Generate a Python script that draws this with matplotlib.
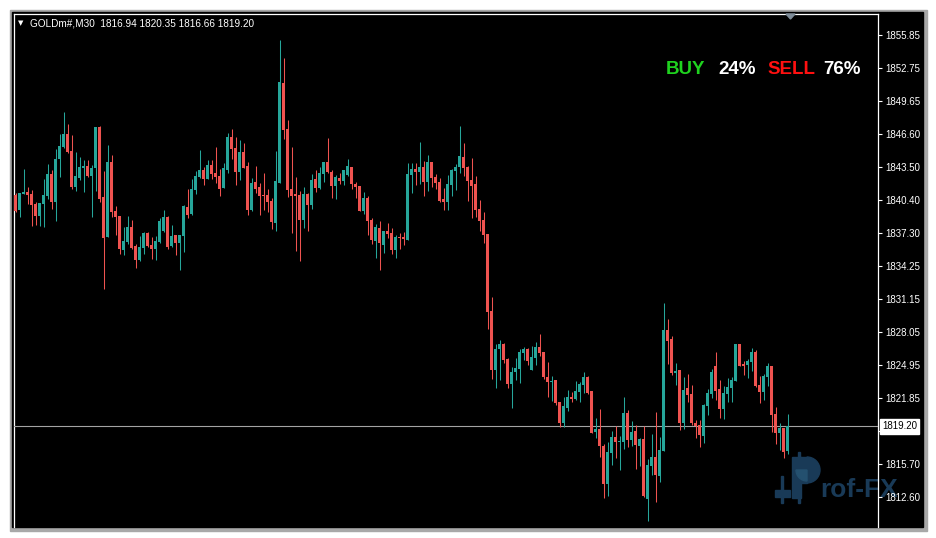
import numpy as np
import matplotlib
matplotlib.use("Agg")
from matplotlib import pyplot as plt
from matplotlib.patches import Rectangle, Polygon, Wedge
from matplotlib.transforms import Affine2D, blended_transform_factory

# ---- data (GOLDm#, M30 candles) ----
symbol = "GOLDm#"
timeframe = "M30"

opens = [
    1840.86, 1839.46, 1840.96, 1841.15, 1840.96, 1840.02, 1838.90, 1840.02, 1840.77, 1842.83,
    1840.24, 1844.24, 1845.36, 1846.58, 1844.98, 1841.61, 1842.46, 1843.39, 1843.58, 1842.64,
    1843.39, 1847.23, 1840.68, 1836.93, 1843.95, 1839.37, 1838.90, 1835.72, 1836.46, 1837.87,
    1836.09, 1834.78, 1835.90, 1837.31, 1836.18, 1835.81, 1836.46, 1837.49, 1838.80, 1836.09,
    1837.12, 1836.37, 1837.03, 1839.74, 1839.09, 1841.33, 1842.55, 1843.21, 1842.37, 1843.68,
    1842.93, 1842.65, 1841.53, 1843.21, 1846.30, 1845.27, 1843.02, 1844.90, 1843.59, 1839.47,
    1842.09, 1841.62, 1840.90, 1840.87, 1840.31, 1838.25, 1842.00, 1851.36, 1847.05, 1841.43,
    1840.96, 1840.87, 1838.53, 1840.96, 1839.93, 1842.37, 1841.53, 1842.84, 1843.96, 1843.02,
    1841.71, 1842.46, 1842.18, 1842.74, 1843.49, 1841.90, 1841.71, 1839.37, 1840.59, 1838.53,
    1836.56, 1837.78, 1836.19, 1837.50, 1837.31, 1835.72, 1836.94, 1836.94, 1836.66, 1842.74,
    1843.30, 1843.02, 1843.49, 1842.09, 1843.96, 1842.56, 1842.09, 1840.50, 1840.22, 1841.81,
    1843.12, 1843.49, 1844.43, 1843.49, 1842.28, 1841.90, 1839.56, 1838.53, 1837.22, 1830.01,
    1824.49, 1826.45, 1826.92, 1825.52, 1823.17, 1824.30, 1824.58, 1826.08, 1826.45, 1824.49,
    1825.61, 1826.64, 1826.17, 1823.83, 1823.36, 1823.55, 1821.49, 1819.52, 1820.92, 1821.95,
    1821.77, 1822.43, 1823.08, 1823.82, 1822.51, 1818.67, 1818.96, 1817.40, 1813.81, 1816.71,
    1818.21, 1817.74, 1817.74, 1820.46, 1817.93, 1818.77, 1817.36, 1818.02, 1812.40, 1815.49,
    1816.33, 1814.55, 1816.90, 1828.23, 1827.38, 1824.20, 1824.48, 1819.52, 1822.79, 1822.23,
    1819.52, 1819.33, 1818.30, 1821.11, 1822.23, 1824.85, 1822.70, 1820.83, 1822.23, 1822.79,
    1823.45, 1826.91, 1825.04, 1824.95, 1825.23, 1826.16, 1823.07, 1822.42, 1823.82, 1824.85,
    1820.36, 1818.58, 1819.05, 1816.94]

highs = [
    1841.02, 1841.08, 1843.30, 1841.65, 1841.33, 1840.24, 1840.08, 1842.36, 1843.77, 1843.21,
    1845.17, 1846.58, 1848.64, 1847.51, 1846.48, 1844.89, 1844.42, 1844.14, 1844.14, 1843.67,
    1847.23, 1847.33, 1843.11, 1845.55, 1844.61, 1839.83, 1838.90, 1837.87, 1838.90, 1838.52,
    1836.28, 1837.03, 1837.40, 1837.40, 1836.93, 1837.03, 1838.71, 1839.46, 1838.90, 1838.06,
    1837.12, 1837.12, 1839.93, 1841.43, 1842.36, 1843.11, 1845.08, 1843.52, 1844.15, 1844.15,
    1845.37, 1843.30, 1843.87, 1846.68, 1847.05, 1846.30, 1846.02, 1845.74, 1843.96, 1842.46,
    1843.59, 1841.99, 1842.93, 1841.43, 1840.59, 1844.99, 1855.38, 1853.70, 1847.89, 1845.37,
    1842.56, 1841.25, 1841.62, 1841.06, 1842.84, 1843.21, 1843.49, 1843.96, 1846.21, 1843.21,
    1842.74, 1842.93, 1843.21, 1844.24, 1843.49, 1842.09, 1841.71, 1841.15, 1840.78, 1838.72,
    1838.16, 1838.44, 1837.50, 1838.25, 1837.78, 1837.13, 1837.31, 1837.41, 1843.87, 1843.87,
    1843.87, 1845.83, 1844.05, 1844.62, 1843.96, 1842.84, 1842.46, 1841.53, 1842.74, 1843.30,
    1843.77, 1847.33, 1845.74, 1843.59, 1844.34, 1842.65, 1840.40, 1839.28, 1837.22, 1831.32,
    1826.92, 1827.29, 1827.01, 1825.61, 1824.77, 1825.61, 1826.45, 1826.64, 1826.55, 1826.73,
    1827.11, 1827.86, 1826.17, 1825.24, 1823.92, 1823.55, 1821.49, 1821.95, 1822.61, 1822.42,
    1823.45, 1823.36, 1824.30, 1823.92, 1822.51, 1819.99, 1820.83, 1817.55, 1817.74, 1818.77,
    1819.24, 1818.30, 1821.95, 1820.74, 1819.70, 1819.33, 1818.11, 1819.24, 1816.15, 1818.49,
    1820.55, 1818.21, 1830.75, 1829.26, 1827.67, 1825.13, 1824.48, 1823.82, 1824.11, 1823.07,
    1819.80, 1819.80, 1821.30, 1822.70, 1824.57, 1826.16, 1823.54, 1822.98, 1823.73, 1823.82,
    1826.91, 1826.91, 1825.32, 1825.51, 1826.54, 1826.35, 1823.92, 1824.11, 1825.13, 1824.85,
    1821.01, 1819.52, 1819.05, 1820.35]

lows = [
    1839.30, 1838.84, 1840.96, 1839.99, 1837.96, 1838.06, 1837.96, 1837.87, 1840.49, 1839.55,
    1838.43, 1842.55, 1845.27, 1844.80, 1841.43, 1841.24, 1842.27, 1841.15, 1842.55, 1838.80,
    1841.24, 1840.21, 1832.06, 1836.93, 1838.80, 1837.12, 1835.34, 1835.25, 1836.28, 1835.81,
    1834.03, 1834.69, 1835.34, 1836.00, 1834.87, 1834.78, 1836.37, 1837.40, 1835.81, 1836.00,
    1835.25, 1833.84, 1835.53, 1838.71, 1838.99, 1840.96, 1842.46, 1841.81, 1842.37, 1842.37,
    1841.99, 1840.78, 1841.53, 1842.93, 1844.24, 1841.81, 1842.28, 1843.40, 1839.00, 1839.37,
    1841.06, 1839.00, 1839.47, 1839.28, 1837.69, 1837.50, 1842.00, 1846.11, 1840.68, 1837.31,
    1835.63, 1834.69, 1837.78, 1837.50, 1839.56, 1841.15, 1841.43, 1842.09, 1842.93, 1840.59,
    1840.50, 1841.90, 1841.81, 1842.65, 1841.43, 1840.59, 1839.37, 1839.09, 1837.13, 1836.28,
    1834.97, 1833.85, 1835.44, 1836.84, 1835.35, 1834.97, 1835.81, 1836.19, 1836.66, 1841.06,
    1841.81, 1841.90, 1840.78, 1841.24, 1841.62, 1841.43, 1840.22, 1839.47, 1839.47, 1840.78,
    1841.34, 1842.93, 1842.65, 1840.31, 1838.72, 1838.81, 1837.50, 1836.38, 1828.32, 1823.64,
    1822.80, 1823.55, 1825.14, 1822.80, 1820.93, 1823.55, 1823.27, 1825.42, 1824.95, 1824.49,
    1824.95, 1825.80, 1823.64, 1821.96, 1821.58, 1821.21, 1819.15, 1819.15, 1820.64, 1821.49,
    1821.67, 1821.49, 1822.33, 1822.23, 1818.58, 1818.11, 1816.33, 1812.50, 1812.68, 1815.58,
    1816.24, 1815.12, 1817.08, 1817.27, 1817.36, 1815.21, 1815.49, 1812.59, 1810.34, 1814.65,
    1812.12, 1813.99, 1816.90, 1825.04, 1824.01, 1823.07, 1818.86, 1818.96, 1821.48, 1819.33,
    1818.11, 1817.27, 1817.64, 1820.27, 1821.86, 1821.67, 1819.99, 1819.89, 1821.48, 1821.48,
    1823.45, 1824.85, 1824.01, 1823.73, 1824.39, 1822.89, 1821.39, 1821.67, 1822.98, 1818.67,
    1817.55, 1816.99, 1816.24, 1816.66]

closes = [
    1839.37, 1841.02, 1841.15, 1840.86, 1839.93, 1838.90, 1840.08, 1840.86, 1842.83, 1840.24,
    1844.24, 1845.45, 1846.58, 1844.89, 1841.61, 1842.64, 1843.49, 1843.58, 1842.64, 1843.39,
    1847.23, 1840.49, 1836.84, 1843.95, 1839.27, 1838.80, 1835.81, 1836.56, 1837.87, 1835.90,
    1834.78, 1836.00, 1837.31, 1836.09, 1835.81, 1836.56, 1838.43, 1838.80, 1836.00, 1837.03,
    1836.37, 1837.12, 1839.83, 1838.99, 1841.43, 1842.64, 1843.21, 1842.37, 1843.68, 1842.84,
    1842.56, 1841.43, 1843.40, 1846.30, 1845.18, 1843.02, 1844.90, 1843.40, 1839.47, 1841.99,
    1841.43, 1840.78, 1840.78, 1840.21, 1838.34, 1842.18, 1851.45, 1846.96, 1841.34, 1840.78,
    1840.78, 1838.53, 1840.96, 1839.93, 1842.28, 1841.53, 1842.93, 1843.96, 1843.02, 1841.71,
    1842.56, 1842.18, 1843.21, 1843.59, 1841.90, 1841.62, 1839.37, 1840.59, 1838.44, 1836.66,
    1837.87, 1836.38, 1837.50, 1837.22, 1835.72, 1836.94, 1836.84, 1836.75, 1842.84, 1843.30,
    1843.02, 1843.49, 1842.09, 1843.96, 1842.46, 1841.99, 1840.31, 1840.22, 1841.90, 1843.21,
    1843.49, 1844.52, 1843.40, 1842.18, 1841.71, 1839.47, 1838.44, 1837.13, 1829.92, 1824.49,
    1826.45, 1826.92, 1825.42, 1823.17, 1824.30, 1824.67, 1826.17, 1826.45, 1825.33, 1825.70,
    1826.64, 1826.08, 1823.83, 1823.36, 1823.46, 1821.39, 1819.52, 1821.11, 1821.95, 1821.77,
    1822.52, 1823.17, 1823.83, 1822.33, 1818.58, 1818.96, 1817.37, 1813.81, 1816.80, 1818.21,
    1817.74, 1817.83, 1820.46, 1817.93, 1818.67, 1817.46, 1818.02, 1812.68, 1815.58, 1816.33,
    1814.65, 1816.99, 1828.23, 1827.20, 1824.20, 1824.39, 1819.52, 1822.61, 1822.14, 1819.52,
    1819.24, 1818.39, 1821.20, 1822.33, 1824.29, 1822.51, 1820.83, 1822.33, 1822.89, 1823.54,
    1826.91, 1824.85, 1824.85, 1825.32, 1826.16, 1822.98, 1822.42, 1823.92, 1824.85, 1820.27,
    1818.58, 1819.05, 1816.80, 1819.20]

price_ticks = [1855.85, 1852.75, 1849.65, 1846.60, 1843.50, 1840.40, 1837.30, 1834.25,
               1831.15, 1828.05, 1824.95, 1821.85, 1818.80, 1815.70, 1812.60]

buy_pct = 24
sell_pct = 76

# ---- figure ----
W, H = 937, 538
fig = plt.figure(figsize=(W / 100, H / 100), dpi=100, facecolor="white")
# pixel coordinates, origin at top-left of the image
px = Affine2D().scale(1 / W, -1 / H).translate(0, 1) + fig.transFigure

# terminal window frame
fig.add_artist(Rectangle((10, 10), 917, 521, transform=px, color="#a8a8a8", zorder=0))
fig.add_artist(Rectangle((12, 12), 911, 515, transform=px, color="black", zorder=0))

ax = fig.add_axes([14 / W, 1 - 527 / H, 864 / W, 513 / H])
ax.set_facecolor("black")
axpx = Affine2D().scale(1 / 864, -1 / 513).translate(-14 / 864, 1 + 14 / 513) + ax.transAxes

up_col = "#26a69a"
dn_col = "#ef5350"
o = np.array(opens)
h = np.array(highs)
l = np.array(lows)
c = np.array(closes)
idx = np.arange(len(o))
cols = np.where(c >= o, up_col, dn_col)

ax.vlines(idx, l, h, colors=cols, linewidth=0.75, zorder=3)
body = np.maximum(np.abs(c - o), 0.09)
ax.bar(idx, body, bottom=np.minimum(o, c), width=0.75, color=cols, linewidth=0, zorder=4)

ax.set_xlim(-0.5, 215.5)
ax.set_ylim(1809.78, 1857.82)
ax.set_xticks([])
ax.yaxis.tick_right()
ax.set_yticks(price_ticks)
# the 1818.80 label sits under the last-price box, as on the terminal
ax.set_yticklabels(["" if abs(t - closes[-1]) < 1 else f"{t:.2f}" for t in price_ticks])
ax.tick_params(axis="y", colors="white", length=3, width=0.8, labelsize=7, pad=2)
for lab in ax.get_yticklabels():
    lab.set_family("Liberation Sans")
for side in ["left", "top", "right"]:
    ax.spines[side].set_color("white")
    ax.spines[side].set_linewidth(0.9)
ax.spines["bottom"].set_visible(False)

# last price line and label
last = closes[-1]
ax.axhline(last, color="#a3a3a3", linewidth=0.8, zorder=2.6)
tr = blended_transform_factory(ax.transAxes, ax.transData)
ax.text(1 + 4 / 864, last, f"{last:.2f}", transform=tr, ha="left", va="center",
        fontsize=7, color="black", clip_on=False, zorder=10, family="Liberation Sans",
        bbox=dict(boxstyle="square,pad=0.22", fc="white", ec="white"))

# header
fig.text(18, 23, "\u25bc", transform=px, color="white", fontsize=5, va="center")
header = f"{symbol},{timeframe}  {opens[-1]:.2f} {highs[-1]:.2f} {lows[-1]:.2f} {closes[-1]:.2f}"
fig.text(30, 23, header, transform=px, color="white", fontsize=7.2, va="center",
         family="Liberation Sans")

# small marker at the top
fig.add_artist(Polygon([[786, 14], [795, 14], [790.5, 19]], closed=True, transform=px,
                       color="#7f8d9a", zorder=5))

# BUY / SELL sentiment
kw = dict(transform=px, fontsize=13.5, fontweight="bold", va="center",
          family="Liberation Sans")
fig.text(666, 69, "BUY", color="#1fd21f", **kw)
fig.text(718, 69, f"{buy_pct}%", color="white", **kw)
fig.text(767, 69, "SELL", color="#ff1010", **kw)
fig.text(823, 69, f"{sell_pct}%", color="white", **kw)

# watermark logo (drawn inside the axes, under candles and tick labels)
logo = "#193a57"
for art in [Rectangle((775, 490), 15, 7), Rectangle((781.5, 476), 1.2, 27),
            Rectangle((798.5, 452), 1.2, 51), Rectangle((792, 457), 9, 41),
            Rectangle((800, 457), 7, 26), Wedge((807, 470), 13, -90, 90)]:
    art.set_transform(axpx)
    art.set_color(logo)
    art.set_zorder(1.5)
    art.set_clip_on(False)
    ax.add_artist(art)
inner = Wedge((807, 470), 11, 90, 180, transform=axpx, color="#24506f", zorder=1.6,
              clip_on=False)
ax.add_artist(inner)
ax.text(820, 497, "rof-FX", transform=axpx, color=logo, fontsize=19, fontweight="bold",
        family="Liberation Sans", va="baseline", zorder=1.5, clip_on=False)

fig.savefig("out.png", dpi=100, facecolor=fig.get_facecolor())
